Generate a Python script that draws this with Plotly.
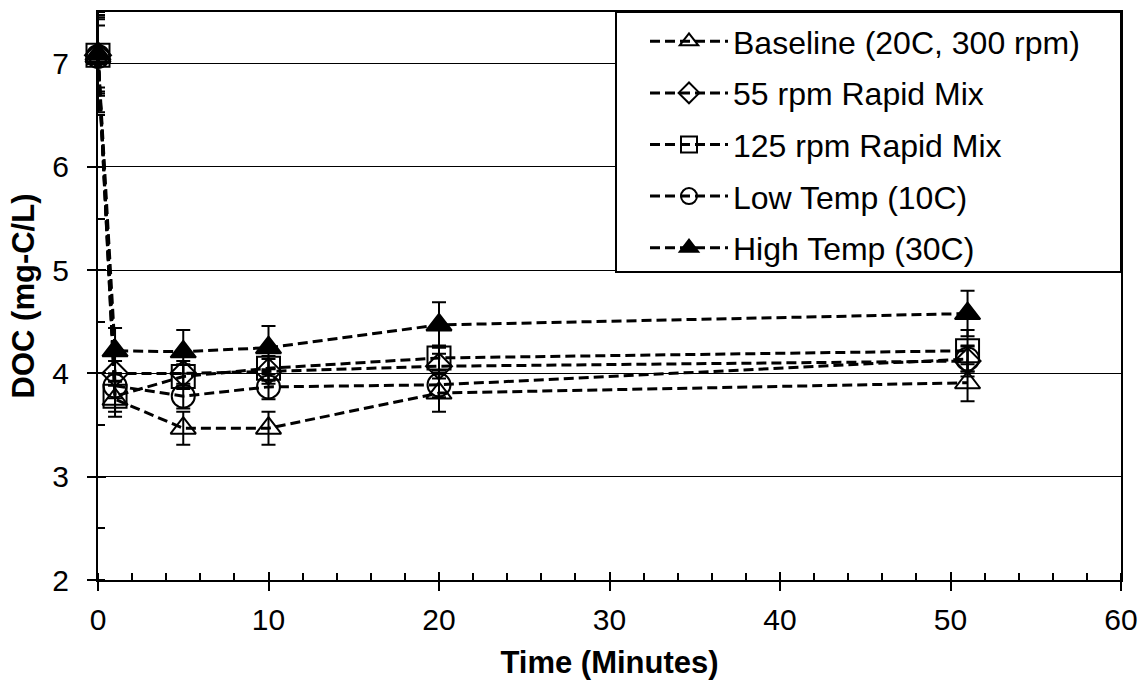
import plotly.graph_objects as go

time_min = [0, 1, 5, 10, 20, 51]

series_names = [
    "Baseline (20C, 300 rpm)",
    "55 rpm Rapid Mix",
    "125 rpm Rapid Mix",
    "Low Temp (10C)",
    "High Temp (30C)",
]

baseline = [7.07, 3.75, 3.47, 3.47, 3.81, 3.91]
rpm55 = [7.08, 4.00, 4.00, 4.02, 4.07, 4.12]
rpm125 = [7.08, 3.78, 3.97, 4.05, 4.15, 4.22]
lowtemp = [7.07, 3.88, 3.78, 3.87, 3.89, 4.14]
hightemp = [7.09, 4.22, 4.21, 4.25, 4.47, 4.58]

baseline_err = [0.38, 0.17, 0.16, 0.16, 0.18, 0.18]
rpm55_err = [0.35, 0.12, 0.12, 0.12, 0.12, 0.15]
rpm125_err = [0.55, 0.15, 0.12, 0.12, 0.12, 0.20]
lowtemp_err = [0.30, 0.12, 0.12, 0.12, 0.12, 0.12]
hightemp_err = [0.38, 0.22, 0.21, 0.21, 0.22, 0.22]

x_ticks = [0, 10, 20, 30, 40, 50, 60]
y_ticks = [2, 3, 4, 5, 6, 7]

values = [baseline, rpm55, rpm125, lowtemp, hightemp]
errors = [baseline_err, rpm55_err, rpm125_err, lowtemp_err, hightemp_err]
symbols = ["triangle-up-open", "diamond-open", "square-open", "circle-open", "triangle-up"]
sizes = [22, 20, 23, 23, 22]

FONT = "Liberation Sans, Arial, sans-serif"
W, H = 1138, 683
ML, MR, MT, MB = 98, 17, 12, 103
PW, PH = W - ML - MR, H - MT - MB

fig = go.Figure()
for i, (name, vals, errs) in enumerate(zip(series_names, values, errors)):
    fig.add_trace(go.Scatter(
        x=time_min, y=vals, name=name, mode="lines+markers",
        legendgroup=f"g{i}",
        line=dict(color="black", width=3, dash="10px,5px"),
        marker=dict(symbol=symbols[i], size=sizes[i], color="black",
                    line=dict(color="black", width=2)),
        error_y=dict(type="data", array=errs, visible=True, color="black",
                     thickness=2, width=7),
        cliponaxis=False,
    ))

# empty helper trace so the overlay axes (inner halves of the major ticks) render
fig.add_trace(go.Scatter(x=[None], y=[None], xaxis="x2", yaxis="y2",
                         showlegend=False, hoverinfo="skip"))

# legend frame (box drawn as a shape so that it can have Excel-like padding)
fig.add_shape(type="rect", xref="paper", yref="paper", layer="above",
              x0=(616 - ML) / PW, x1=1.0, y0=1 - (272 - MT) / PH, y1=1.0,
              line=dict(color="black", width=2), fillcolor="white")

fig.update_layout(
    width=W, height=H,
    margin=dict(l=ML, r=MR, t=MT, b=MB),
    paper_bgcolor="white", plot_bgcolor="white",
    font=dict(family=FONT, size=30, color="black"),
    legend=dict(
        x=(645 - ML) / PW, y=1 - 2 / PH, xanchor="left", yanchor="top",
        bgcolor="rgba(0,0,0,0)", borderwidth=0,
        font=dict(family=FONT, size=32, color="black"),
        itemwidth=78, tracegroupgap=7,
    ),
    xaxis2=dict(overlaying="x", anchor="y", side="bottom", range=[0, 60],
                tickvals=x_ticks, ticks="inside", ticklen=8, tickwidth=2, tickcolor="black",
                showticklabels=False, showgrid=False, zeroline=False, showline=False,
                automargin=False),
    yaxis2=dict(overlaying="y", anchor="x", side="left", range=[2, 7.5],
                tickvals=y_ticks, ticks="inside", ticklen=8, tickwidth=2, tickcolor="black",
                showticklabels=False, showgrid=False, zeroline=False, showline=False,
                automargin=False),
)

fig.layout.xaxis.update(
    range=[0, 60], tickvals=x_ticks, automargin=False,
    showgrid=False, zeroline=False,
    showline=True, linecolor="black", linewidth=2, mirror=True,
    ticks="outside", ticklen=9, tickwidth=2, tickcolor="black",
    minor=dict(dtick=2, ticks="inside", ticklen=7, tickwidth=2, tickcolor="black", showgrid=False),
    tickfont=dict(family=FONT, size=30),
    ticklabelstandoff=3,
    title=dict(text="<b>Time (Minutes)</b>", font=dict(family=FONT, size=31), standoff=16),
)

fig.layout.yaxis.update(
    range=[2, 7.5], tickvals=y_ticks, automargin=False,
    showgrid=True, gridcolor="black", gridwidth=1, zeroline=False,
    showline=True, linecolor="black", linewidth=2, mirror=True,
    ticks="outside", ticklen=9, tickwidth=2, tickcolor="black",
    minor=dict(dtick=0.5, ticks="inside", ticklen=7, tickwidth=2, tickcolor="black", showgrid=False),
    tickfont=dict(family=FONT, size=30),
    ticklabelstandoff=12,
    title=dict(text="<b>DOC (mg-C/L)</b>", font=dict(family=FONT, size=31), standoff=8),
)

fig.write_html("out.html")
